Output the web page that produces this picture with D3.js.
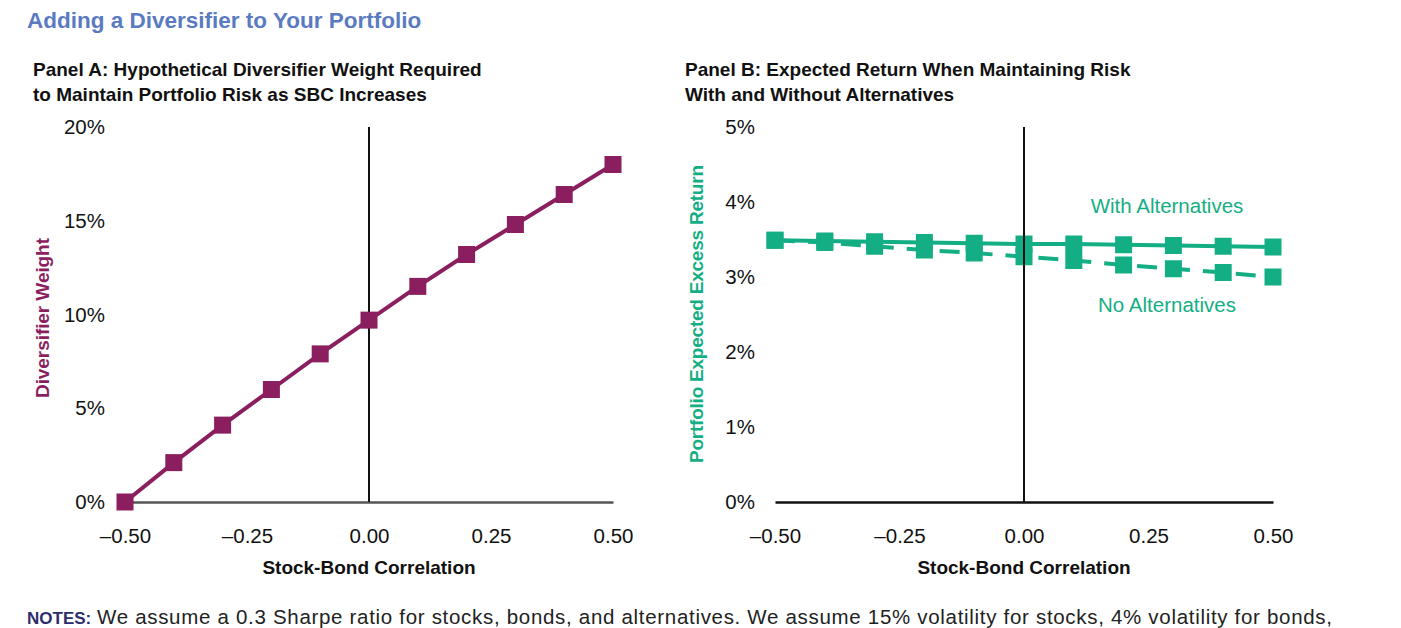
<!DOCTYPE html>
<html>
<head>
<meta charset="utf-8">
<script src="https://cdn.jsdelivr.net/npm/d3@7"></script>
<style>
  body { margin: 0; background: #fff; }
  svg { display: block; font-family: "Liberation Sans", Arial, sans-serif; }
</style>
</head>
<body>
<div id="chart"></div>
<script>
// Datos
const correlaciones = [-0.5, -0.4, -0.3, -0.2, -0.1, 0, 0.1, 0.2, 0.3, 0.4, 0.5];
const pesoDiversificador = [0, 2.1, 4.1, 6.0, 7.9, 9.7, 11.5, 13.2, 14.8, 16.4, 18.0];
const conAlternativas = [3.49, 3.48, 3.47, 3.46, 3.45, 3.44, 3.44, 3.43, 3.42, 3.41, 3.40];
const sinAlternativas = [3.49, 3.46, 3.41, 3.36, 3.32, 3.27, 3.22, 3.16, 3.11, 3.06, 3.00];
const ticksX = [-0.5, -0.25, 0, 0.25, 0.5];
const ticksYA = [0, 5, 10, 15, 20];
const ticksYB = [0, 1, 2, 3, 4, 5];

const width = 1401;
const height = 628;
const morado = "#8b1e5e";
const verde = "#14ae84";
const lado = 17;

const svg = d3.select("#chart")
  .append("svg")
  .attr("width", width)
  .attr("height", height);

// Titulo general
svg.append("text")
  .attr("x", 27).attr("y", 28)
  .attr("fill", "#5a7bbf")
  .attr("font-weight", "bold")
  .attr("font-size", 22.5)
  .text("Adding a Diversifier to Your Portfolio");

const formatoX = d => d3.format(".2f")(d).replace("\u2212", "\u2013");

const dibujarPanel = (cfg) => {
  const g = svg.append("g");

  // Titulo del panel, dos lineas
  cfg.titulo.forEach((linea, i) => {
    g.append("text")
      .attr("x", cfg.tituloX).attr("y", 76 + i * 25)
      .attr("font-weight", "bold")
      .attr("font-size", 19)
      .attr("fill", "#111")
      .text(linea);
  });

  const x = d3.scaleLinear().domain([-0.5, 0.5]).range(cfg.rangoX);
  const y = d3.scaleLinear().domain(cfg.dominioY).range([502, 127]);

  // Eje y (solo etiquetas)
  const ejeY = g.append("g")
    .attr("transform", `translate(${cfg.rangoX[0] - 17},0)`)
    .call(d3.axisLeft(y).tickValues(cfg.ticksY).tickSize(0).tickFormat(d => d + "%"));
  ejeY.select(".domain").remove();
  ejeY.selectAll("text")
    .attr("font-size", 20.5)
    .attr("fill", "#111")
    .attr("font-family", "'Liberation Sans', sans-serif");

  // Eje x
  const ejeX = g.append("g")
    .attr("transform", "translate(0,502)")
    .call(d3.axisBottom(x).tickValues(ticksX).tickSize(0).tickPadding(26).tickFormat(formatoX));
  ejeX.select(".domain")
    .attr("stroke", cfg.colorBase)
    .attr("stroke-width", 2.5);
  ejeX.selectAll("text")
    .attr("font-size", 20.5)
    .attr("fill", "#111")
    .attr("font-family", "'Liberation Sans', sans-serif");

  // Titulos de ejes
  g.append("text")
    .attr("x", x(0)).attr("y", 574)
    .attr("text-anchor", "middle")
    .attr("font-weight", "bold")
    .attr("font-size", 19)
    .attr("fill", "#111")
    .text("Stock-Bond Correlation");

  g.append("text")
    .attr("transform", `translate(${cfg.tituloYX},${cfg.tituloYY}) rotate(-90)`)
    .attr("text-anchor", "middle")
    .attr("font-weight", "bold")
    .attr("font-size", 19)
    .attr("fill", cfg.color)
    .attr("textLength", cfg.largoTituloY)
    .attr("lengthAdjust", "spacing")
    .text(cfg.tituloY);

  const lineaCero = () => g.append("line")
    .attr("x1", x(0)).attr("x2", x(0))
    .attr("y1", y(cfg.dominioY[1])).attr("y2", 502)
    .attr("stroke", "#111")
    .attr("stroke-width", 2);

  if (!cfg.ceroEncima) lineaCero();

  const linea = d3.line().x((d, i) => x(correlaciones[i])).y(d => y(d));

  cfg.series.forEach(serie => {
    g.append("path")
      .datum(serie.valores)
      .attr("d", linea)
      .attr("fill", "none")
      .attr("stroke", cfg.color)
      .attr("stroke-width", 4)
      .attr("stroke-dasharray", serie.guiones ? "20,13" : null);

    g.append("g")
      .selectAll("rect")
      .data(serie.valores)
      .join("rect")
      .attr("x", (d, i) => x(correlaciones[i]) - lado / 2)
      .attr("y", d => y(d) - lado / 2)
      .attr("width", lado)
      .attr("height", lado)
      .attr("fill", cfg.color);
  });

  if (cfg.ceroEncima) lineaCero();

  return { x, y, g };
};

dibujarPanel({
  titulo: ["Panel A: Hypothetical Diversifier Weight Required", "to Maintain Portfolio Risk as SBC Increases"],
  tituloX: 33,
  rangoX: [125, 613],
  dominioY: [0, 20],
  ticksY: ticksYA,
  color: morado,
  colorBase: "#555",
  tituloY: "Diversifier Weight",
  tituloYX: 49,
  tituloYY: 318,
  largoTituloY: 160,
  ceroEncima: false,
  series: [{ valores: pesoDiversificador, guiones: false }]
});

const panelB = dibujarPanel({
  titulo: ["Panel B: Expected Return When Maintaining Risk", "With and Without Alternatives"],
  tituloX: 685,
  rangoX: [775, 1273],
  dominioY: [0, 5],
  ticksY: ticksYB,
  color: verde,
  colorBase: "#111",
  tituloY: "Portfolio Expected Excess Return",
  tituloYX: 703,
  tituloYY: 314,
  largoTituloY: 298,
  ceroEncima: true,
  series: [
    { valores: sinAlternativas, guiones: true },
    { valores: conAlternativas, guiones: false }
  ]
});

// Etiquetas de series en el panel B
[["With Alternatives", 3.95], ["No Alternatives", 2.63]].forEach(([texto, v]) => {
  panelB.g.append("text")
    .attr("x", 1167).attr("y", panelB.y(v))
    .attr("text-anchor", "middle")
    .attr("dy", "0.35em")
    .attr("font-size", 20.5)
    .attr("fill", verde)
    .text(texto);
});

// Notas
const notas = svg.append("text")
  .attr("x", 27).attr("y", 624)
  .attr("font-size", 20.5)
  .attr("fill", "#222");
notas.append("tspan")
  .attr("font-weight", "bold")
  .attr("font-size", 17)
  .attr("fill", "#2e2d6b")
  .text("NOTES:");
notas.append("tspan")
  .attr("x", 97)
  .attr("textLength", 1235)
  .attr("lengthAdjust", "spacing")
  .text("We assume a 0.3 Sharpe ratio for stocks, bonds, and alternatives. We assume 15% volatility for stocks, 4% volatility for bonds,");
</script>
</body>
</html>
